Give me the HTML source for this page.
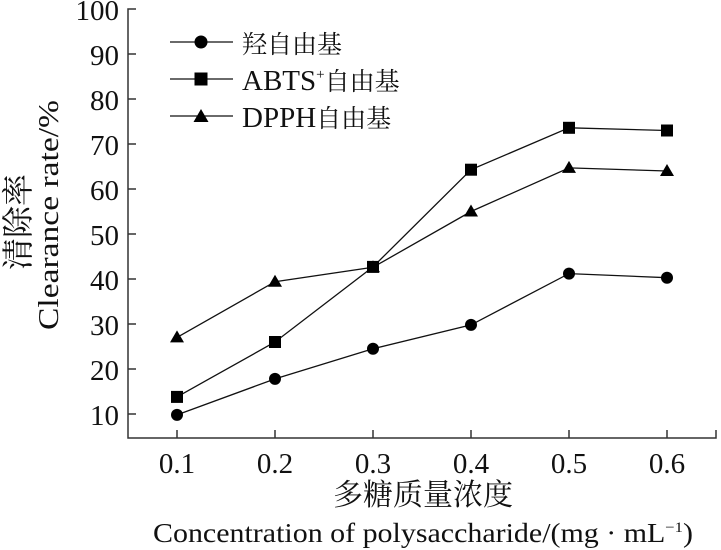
<!DOCTYPE html><html><head><meta charset="utf-8"><style>body{margin:0;background:#fff}svg{display:block}text{font-family:"Liberation Serif","Noto Serif CJK SC",serif;fill:#111}</style></head><body>
<svg width="721" height="550" viewBox="0 0 721 550">
<g stroke="#333" stroke-width="1.5" fill="none">
<polyline points="136,9 128,9 128,438 716,438 716,430"/>
<path d="M128,54h8M128,99h8M128,144h8M128,189h8M128,234h8M128,279h8M128,324h8M128,369h8M128,414h8"/>
<path d="M177,438v-8M275,438v-8M373,438v-8M471,438v-8M569,438v-8M667,438v-8"/>
</g>
<g font-size="29" text-anchor="end">
<text x="119" y="20">100</text><text x="119" y="65">90</text><text x="119" y="110">80</text><text x="119" y="155">70</text><text x="119" y="200">60</text><text x="119" y="245">50</text><text x="119" y="290">40</text><text x="119" y="335">30</text><text x="119" y="380">20</text><text x="119" y="425">10</text>
</g>
<g font-size="29" text-anchor="middle">
<text x="177" y="473">0.1</text><text x="275" y="473">0.2</text><text x="373" y="473">0.3</text><text x="471" y="473">0.4</text><text x="569" y="473">0.5</text><text x="667" y="473">0.6</text>
<text x="423" y="505" font-size="30">多糖质量浓度</text>
</g>
<text x="153" y="542" font-size="27" textLength="540" lengthAdjust="spacingAndGlyphs">Concentration of polysaccharide/(mg · mL<tspan font-size="15" dy="-10">−1</tspan><tspan dy="10">)</tspan></text>
<text transform="translate(29,222) rotate(-90)" text-anchor="middle" font-size="32">清除率</text>
<text transform="translate(58,330) rotate(-90)" font-size="28" textLength="230" lengthAdjust="spacingAndGlyphs">Clearance rate/%</text>
<g stroke="#111" stroke-width="1.3" fill="none">
<polyline points="177,414.9 275,378.9 373,348.8 471,324.9 569,273.6 667,277.7"/>
<polyline points="177,396.9 275,342 373,266.9 471,169.7 569,127.8 667,130.5"/>
<polyline points="177,337.4 275,281.7 373,267.3 471,211.5 569,167.9 667,171"/>
<path d="M170,42h63M170,79h63M170,116h63"/>
</g>
<g fill="#000">
<circle cx="177" cy="414.9" r="6"/><circle cx="275" cy="378.9" r="6"/><circle cx="373" cy="348.8" r="6"/><circle cx="471" cy="324.9" r="6"/><circle cx="569" cy="273.6" r="6"/><circle cx="667" cy="277.7" r="6"/>
<circle cx="201" cy="42" r="6.5"/>
<rect x="171" y="390.9" width="12" height="12"/><rect x="269" y="336" width="12" height="12"/><rect x="367" y="260.9" width="12" height="12"/><rect x="465" y="163.7" width="12" height="12"/><rect x="563" y="121.8" width="12" height="12"/><rect x="661" y="124.5" width="12" height="12"/>
<rect x="194.5" y="72.5" width="13" height="13"/>
<path d="M177,330.4l7,12h-14zM275,274.7l7,12h-14zM373,260.3l7,12h-14zM471,204.5l7,12h-14zM569,160.9l7,12h-14zM667,164l7,12h-14zM201,109l7.5,13h-15z"/>
</g>
<g font-size="25">
<text x="242" y="53">羟自由基</text>
<text x="242" y="90" font-size="29">ABTS<tspan font-size="15" dy="-11">+</tspan><tspan dy="11" font-size="25">自由基</tspan></text>
<text x="242" y="127" font-size="29">DPPH<tspan font-size="25">自由基</tspan></text>
</g>
</svg></body></html>
